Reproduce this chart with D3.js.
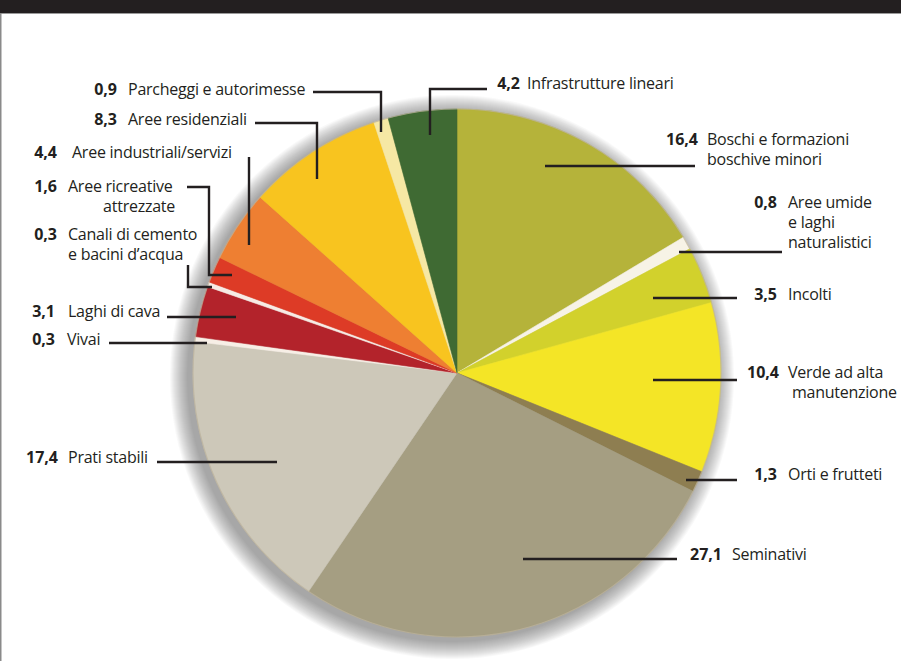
<!DOCTYPE html>
<html lang="it">
<head>
<meta charset="utf-8">
<script src="https://cdn.jsdelivr.net/npm/d3@7"></script>
<style>
  html, body { margin: 0; padding: 0; background: #fff; }
  svg { display: block; }
  text { font-family: "Open Sans", Lato, sans-serif; fill: #231f20; }
</style>
</head>
<body>
<script>
// Uso del suolo (%), in senso orario dalle ore 12
const categories = [
  "Boschi e formazioni boschive minori",
  "Aree umide e laghi naturalistici",
  "Incolti",
  "Verde ad alta manutenzione",
  "Orti e frutteti",
  "Seminativi",
  "Prati stabili",
  "Vivai",
  "Laghi di cava",
  "Canali di cemento e bacini d’acqua",
  "Aree ricreative attrezzate",
  "Aree industriali/servizi",
  "Aree residenziali",
  "Parcheggi e autorimesse",
  "Infrastrutture lineari"
];
const values = [16.4, 0.8, 3.5, 10.4, 1.3, 27.1, 17.4, 0.3, 3.1, 0.3, 1.6, 4.4, 8.3, 0.9, 4.2];
const sliceColors = [
  "#b5b33a", "#f7f3e6", "#d2d12c", "#f4e526", "#8e7e51",
  "#a59e82", "#cdc8b9", "#f7efe6", "#b3232b", "#f7ebe4",
  "#dd3b26", "#ee7f32", "#f8c41f", "#f6e8a4", "#3f6a33"
];
// Righe di testo delle etichette (a capo dove serve)
const labelLines = [
  ["Boschi e formazioni", "boschive minori"],
  ["Aree umide", "e laghi", "naturalistici"],
  ["Incolti"],
  ["Verde ad alta", "manutenzione"],
  ["Orti e frutteti"],
  ["Seminativi"],
  ["Prati stabili"],
  ["Vivai"],
  ["Laghi di cava"],
  ["Canali di cemento", "e bacini d’acqua"],
  ["Aree ricreative", "attrezzate"],
  ["Aree industriali/servizi"],
  ["Aree residenziali"],
  ["Parcheggi e autorimesse"],
  ["Infrastrutture lineari"]
];

// Impaginazione delle etichette e delle linee di richiamo
const labelLayout = [
  { nx: 698, y: 145, lx: [707, 707], leader: [[545,166],[695,166]] },
  { nx: 777, y: 208, lx: [788, 788, 788], leader: [[679,252],[782,252]] },
  { nx: 777, y: 300, lx: [788], leader: [[653,298],[737,298]] },
  { nx: 779, y: 378, lx: [788, 792], leader: [[653,380],[737,380]] },
  { nx: 777, y: 480, lx: [788], leader: [[686,480],[737,480]] },
  { nx: 722, y: 560, lx: [732], leader: [[523,559],[677,559]] },
  { nx: 58,  y: 463, lx: [68], leader: [[157,462],[277,462]] },
  { nx: 55,  y: 345, lx: [67], leader: [[109,343],[207,343]] },
  { nx: 55,  y: 317, lx: [68], leader: [[167,317],[236,317]] },
  { nx: 57,  y: 240, lx: [68, 68], leader: [[188,265],[188,287],[212,287]] },
  { nx: 57,  y: 192, lx: [68, 175], anchor2: "end", leader: [[187,187],[209,187],[209,275],[232,275]] },
  { nx: 57,  y: 158, lx: [72], leader: [[249,157],[249,245]] },
  { nx: 117, y: 125, lx: [128], leader: [[255,123],[317,123],[317,179]] },
  { nx: 117, y: 95,  lx: [128], leader: [[313,92],[381,92],[381,132]] },
  { nx: 520, y: 89,  lx: [527], leader: [[487,89],[430,89],[430,135]] }
];

const W = 901, H = 661;
const cx = 457, cy = 373, R = 264;
const fmt = v => d3.format(".1f")(v).replace(".", ",");

const svg = d3.select("body").append("svg").attr("width", W).attr("height", H);

// Fascia scura in alto e bordo sinistro
svg.append("rect").attr("x", 0).attr("y", 0).attr("width", W).attr("height", 13).attr("fill", "#231f20");
svg.append("rect").attr("x", 0).attr("y", 13).attr("width", W).attr("height", 1).attr("fill", "#9a9a9a");
svg.append("rect").attr("x", 0).attr("y", 13).attr("width", 1.5).attr("height", H - 13).attr("fill", "#8a8a8a");

const pie = d3.pie().sort(null).value(d => d)
  .startAngle(0).endAngle(2 * Math.PI);
const arc = d3.arc().innerRadius(0).outerRadius(R);
const arcs = pie(values);

// Ombra morbida: anelli sovrapposti a bassa opacità, spostati in basso a sinistra
svg.append("g").selectAll("circle").data(d3.range(1, 19)).join("circle")
  .attr("cx", cx - 5).attr("cy", cy + 4)
  .attr("r", k => R + k)
  .attr("fill", "#555")
  .attr("fill-opacity", 0.035);

const g = svg.append("g").attr("transform", `translate(${cx},${cy})`);

g.selectAll("path.slice").data(arcs).join("path")
  .attr("class", "slice")
  .attr("d", arc)
  .attr("fill", (d, i) => sliceColors[i])
  .attr("stroke", (d, i) => sliceColors[i])
  .attr("stroke-width", 0.6);

// Leggero bordo del disco
g.append("circle").attr("r", R).attr("fill", "none")
  .attr("stroke", "#bdb49c").attr("stroke-width", 1.2).attr("opacity", 0.7);

// Linee di richiamo
const line = d3.line();
svg.append("g").selectAll("path").data(labelLayout).join("path")
  .attr("d", d => line(d.leader))
  .attr("fill", "none")
  .attr("stroke", "#231f20")
  .attr("stroke-width", 2.4)
  .attr("stroke-linejoin", "miter")
  .attr("stroke-linecap", "butt");

// Etichette: valore in grassetto + descrizione
const labels = svg.append("g").selectAll("g").data(arcs).join("g");
labels.append("text")
  .attr("x", (d, i) => labelLayout[i].nx)
  .attr("y", (d, i) => labelLayout[i].y)
  .attr("text-anchor", "end")
  .attr("font-size", 16)
  .attr("font-weight", 700)
  .text(d => fmt(d.value));

labels.each(function(d, i) {
  const L = labelLayout[i];
  labelLines[i].forEach((t, k) => {
    d3.select(this).append("text")
      .attr("x", L.lx[k])
      .attr("y", L.y + k * 20)
      .attr("text-anchor", k > 0 && L.anchor2 ? L.anchor2 : "start")
      .attr("font-size", 16)
      .attr("letter-spacing", -0.25)
      .text(t);
  });
});
</script>
</body>
</html>
